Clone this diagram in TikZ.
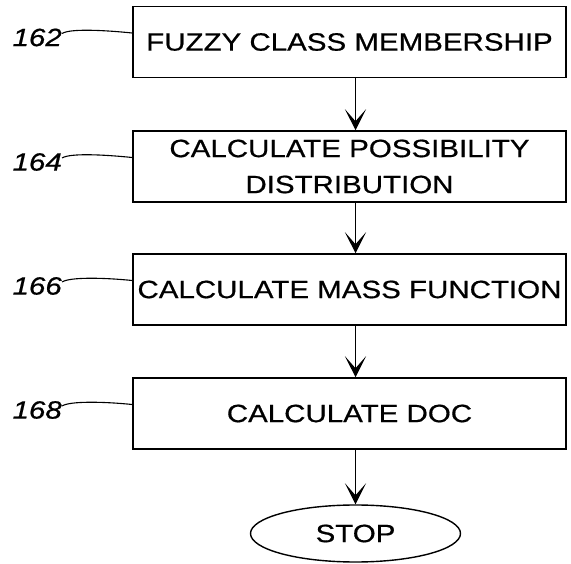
\documentclass[tikz,border=0pt]{standalone}
\usepackage{fontspec}
\setmainfont[FakeStretch=1.18,FakeBold=0.6]{Liberation Sans}
\usetikzlibrary{arrows.meta,shapes.geometric}
\begin{document}
\begin{tikzpicture}[x=1pt,y=1pt,
  box/.style={draw, line width=1.5pt, minimum width=433pt, minimum height=71pt,
    inner sep=0pt, font=\fontsize{25}{36}\selectfont, align=center},
  endnode/.style={draw, ellipse, line width=1.4pt, minimum width=210pt, minimum height=57pt,
    inner sep=0pt, font=\fontsize{25}{30}\selectfont},
  lab/.style={anchor=east, inner sep=0pt, font=\fontsize{25}{30}\selectfont\itshape},
  lead/.style={line width=1.1pt},
  arr/.style={line width=1.5pt, -{Stealth[length=21pt, width=21pt, inset=12pt]}}]
\useasboundingbox (0,0) rectangle (571,563);
\node[box] (b1) at (349.5,521) {FUZZY CLASS MEMBERSHIP};
\node[box] (b2) at (349.5,396.5) {CALCULATE POSSIBILITY\\DISTRIBUTION};
\node[box] (b3) at (349.5,273.5) {CALCULATE MASS FUNCTION};
\node[box] (b4) at (349.5,149.5) {CALCULATE DOC};
\node[endnode] (stop) at (355.5,29.5) {STOP};
\node[lab] (l1) at (62,525.5) {162};
\node[lab] (l2) at (62,401) {164};
\node[lab] (l3) at (62,277) {166};
\node[lab] (l4) at (62,153) {168};
\draw[lead] ([yshift=4pt]l1.east) .. controls +(8,5) and +(-30,3) .. ([yshift=9pt]b1.west);
\draw[lead] ([yshift=4pt]l2.east) .. controls +(8,5) and +(-30,3) .. ([yshift=9pt]b2.west);
\draw[lead] ([yshift=4pt]l3.east) .. controls +(8,5) and +(-30,3) .. ([yshift=9pt]b3.west);
\draw[lead] ([yshift=4pt]l4.east) .. controls +(8,5) and +(-30,3) .. ([yshift=9pt]b4.west);
\draw[arr] (b1.south -| stop.center) -- (b2.north -| stop.center);
\draw[arr] (b2.south -| stop.center) -- (b3.north -| stop.center);
\draw[arr] (b3.south -| stop.center) -- (b4.north -| stop.center);
\draw[arr] (b4.south -| stop.center) -- (stop.north);
\end{tikzpicture}
\end{document}
